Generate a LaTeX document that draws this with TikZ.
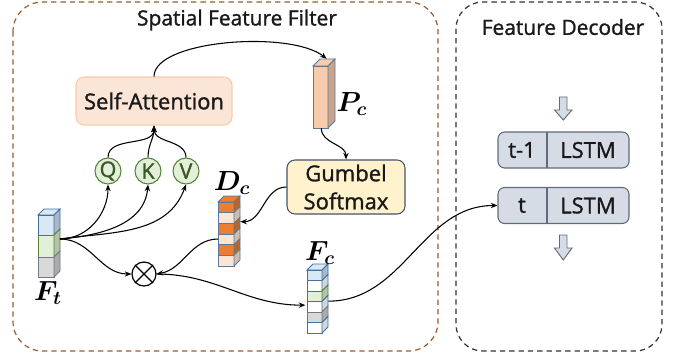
\documentclass[tikz,border=0pt]{standalone}
\usepackage{fontspec}
\setmainfont{Open Sans}[FakeBold=1.3]
\usepackage{bm}
\usetikzlibrary{arrows.meta,fit}
\definecolor{brownline}{HTML}{A0592B}
\definecolor{saFill}{HTML}{FBE5D6}
\definecolor{saDraw}{HTML}{F8CBAD}
\definecolor{qFill}{HTML}{E2F0D9}
\definecolor{qDraw}{HTML}{548235}
\definecolor{qText}{HTML}{385723}
\definecolor{gsFill}{HTML}{FFF2CC}
\definecolor{gsDraw}{HTML}{44546A}
\definecolor{lsFill}{HTML}{D6DCE5}
\definecolor{lsDraw}{HTML}{5F6B7A}
\definecolor{cBlue}{HTML}{DAE8F5}
\definecolor{cBlueS}{HTML}{A9B8C8}
\definecolor{cBlueD}{HTML}{41719C}
\definecolor{cGreen}{HTML}{E2F0D9}
\definecolor{cGreenS}{HTML}{B4C2AC}
\definecolor{cGreenD}{HTML}{548235}
\definecolor{cGray}{HTML}{D9D9D9}
\definecolor{cGrayS}{HTML}{ABABAB}
\definecolor{cGrayD}{HTML}{6F7A88}
\definecolor{cOr}{HTML}{ED7D31}
\definecolor{cOrS}{HTML}{B9662C}
\definecolor{cLt}{HTML}{FBE5D6}
\definecolor{cLtS}{HTML}{CDBCB2}
\definecolor{cWhS}{HTML}{CFD6DE}
\definecolor{pcFill}{HTML}{F8CBAD}
\definecolor{pcSide}{HTML}{C9A38C}
\definecolor{cellD}{HTML}{5B7A9A}
\newcommand{\cellbox}[8]{%
  \filldraw[fill=#6,draw=#8,line width=0.6pt] (#1,-#2) rectangle (#1+#3,-#2-#4);
  \filldraw[fill=#7,draw=#8,line width=0.6pt] (#1+#3,-#2) -- ++(#5,#5) -- ++(0,-#4) -- ++(-#5,-#5) -- cycle;}
\newcommand{\topface}[6]{%
  \filldraw[fill=#5,draw=#6,line width=0.6pt] (#1,-#2) -- ++(#4,#4) -- ++(#3,0) -- ++(-#4,-#4) -- cycle;}
\tikzset{
  arr/.style={line width=0.8pt,-{Stealth[length=5pt,width=4pt]}},
  txt/.style={font=\fontsize{16.5}{21}\selectfont,text=black!90},
  ttl/.style={font=\fontsize{15.7}{19}\selectfont,text=black!90},
  lab/.style={font=\fontsize{21}{24}\selectfont},
  qkv/.style={circle,draw=qDraw,fill=qFill,line width=0.8pt,minimum size=19.5pt,inner sep=0pt,
    font=\fontsize{16}{18}\selectfont,text=qText},
  lstmbox/.style={draw=lsDraw,fill=lsFill,line width=0.8pt,rounded corners=5pt,minimum width=98.25pt,minimum height=27pt,inner sep=0pt},
  hollow/.style={draw=lsDraw,fill=lsFill,line width=0.7pt},
  ghost/.style={inner sep=0pt,draw=none}
}
\begin{document}
\begin{tikzpicture}[x=0.75pt,y=0.75pt]
\useasboundingbox (0,0) rectangle (681,-356);
% outer boxes
\draw[brownline,line width=0.9pt,dash pattern=on 4pt off 3pt,rounded corners=22pt] (13,-2) rectangle (438,-351);
\draw[black!80,line width=0.9pt,dash pattern=on 4pt off 3pt,rounded corners=20pt] (456,-2) rectangle (662,-351);
\node[ttl] (title1) at (237,-20) {Spatial Feature Filter};
\node[ttl] (title2) at (563,-27) {Feature Decoder};
% self-attention
\node[draw=saDraw,fill=saFill,line width=0.8pt,rounded corners=6pt,minimum width=117pt,minimum height=36pt,txt] (sa) at (154,-101) {Self-Attention};
\node[qkv] (q) at (108,-171) {Q};
\node[qkv] (k) at (148,-171) {K};
\node[qkv] (v) at (186,-171) {V};
% gumbel
\node[draw=gsDraw,fill=gsFill,line width=0.8pt,rounded corners=6pt,minimum width=88.5pt,minimum height=40.5pt,align=center,txt] (gs) at (346,-187) {Gumbel\\Softmax};
% otimes
\node[circle,draw=black,line width=0.9pt,minimum size=18pt,inner sep=0pt] (ot) at (144,-274) {};
\draw[line width=0.9pt] (ot.north west) -- (ot.south east) (ot.north east) -- (ot.south west);
% F_t stack
\topface{38}{215}{16}{6}{cBlue}{cBlueD}
\cellbox{38}{215}{16}{20}{6}{cBlue}{cBlueS}{cBlueD}
\cellbox{38}{235}{16}{22}{6}{cGreen}{cGreenS}{cGreenD}
\cellbox{38}{257}{16}{20}{6}{cGray}{cGrayS}{cGrayD}
\node[ghost,fit={(38,-209) (60,-277)}] (ft) {};
\node[lab] (ftl) at (48,-293) {$\bm{F_t}$};
% D_c stack
\topface{218}{202}{16}{6}{cOr}{cellD}
\cellbox{218}{202}{16}{10.67}{6}{cOr}{cOrS}{cellD}
\cellbox{218}{212.67}{16}{10.67}{6}{cLt}{cLtS}{cellD}
\cellbox{218}{223.33}{16}{10.67}{6}{cOr}{cOrS}{cellD}
\cellbox{218}{234}{16}{10.67}{6}{cLt}{cLtS}{cellD}
\cellbox{218}{244.67}{16}{10.67}{6}{cOr}{cOrS}{cellD}
\cellbox{218}{255.33}{16}{10.67}{6}{cLt}{cLtS}{cellD}
\node[ghost,fit={(218,-196) (240,-266)}] (dc) {};
\node[lab] (dcl) at (232,-183) {$\bm{D_c}$};
% P_c
\topface{313}{66}{15}{7}{pcFill}{cellD}
\cellbox{313}{66}{15}{62}{7}{pcFill}{pcSide}{cellD}
\node[ghost,fit={(313,-59) (335,-128)}] (pc) {};
\node[lab] (pcl) at (352,-104) {$\bm{P_c}$};
% F_c stack
\topface{307}{270}{15}{6}{cBlue}{cBlueD}
\cellbox{307}{270}{15}{10.5}{6}{cBlue}{cBlueS}{cBlueD}
\cellbox{307}{280.5}{15}{10.5}{6}{white}{cWhS}{cBlueD}
\cellbox{307}{291}{15}{10.5}{6}{cGreen}{cGreenS}{cGreenD}
\cellbox{307}{301.5}{15}{10.5}{6}{white}{cWhS}{cBlueD}
\cellbox{307}{312}{15}{10.5}{6}{cGray}{cGrayS}{cGrayD}
\cellbox{307}{322.5}{15}{10.5}{6}{white}{cWhS}{cBlueD}
\node[ghost,fit={(307,-264) (328,-333)}] (fc) {};
\node[lab] (fcl) at (320,-253) {$\bm{F_c}$};
% LSTM boxes
\node[lstmbox] (l1) at (563.5,-150) {};
\draw[lsDraw,line width=0.8pt] (547,-132) -- (547,-168);
\node[txt] (l1a) at (522,-150) {t-1};
\node[txt] (l1b) at (588,-150) {LSTM};
\node[lstmbox] (l2) at (563.5,-205.5) {};
\draw[lsDraw,line width=0.8pt] (547,-188) -- (547,-223);
\node[txt] (l2a) at (522,-205.5) {t};
\node[txt] (l2b) at (588,-205.5) {LSTM};
% hollow arrows
\draw[hollow] (559.5,-97) -- (567,-97) -- (567,-110) -- (572,-110) -- (563.25,-120) -- (554.5,-110) -- (559.5,-110) -- cycle;
\draw[hollow] (559.5,-235) -- (567,-235) -- (567,-248) -- (572,-248) -- (563.25,-260) -- (554.5,-248) -- (559.5,-248) -- cycle;
% connectors
\coordinate (ftout) at (60,-239);
\draw[arr] (ftout) to[out=0,in=-90] (q.south);
\draw[arr] (ftout) to[out=5,in=-95] (k.south);
\draw[arr] (ftout) to[out=8,in=-110] (v.south);
\draw[arr] (q.north) to[out=90,in=-90] (sa.south);
\draw[arr] (k.north) to[out=90,in=-90] (sa.south);
\draw[arr] (v.north) to[out=90,in=-90] (sa.south);
\draw[arr] (sa.north) .. controls (154,-40) and (290,-30) .. ([xshift=2pt]pc.north);
\draw[arr] ([xshift=-2pt]pc.south) to[out=-90,in=90] (gs.north);
\draw[arr] (gs.west) to[out=180,in=0] ([yshift=7pt]dc.east);
\draw[arr] ([yshift=-6pt,xshift=-16.5pt]dc.east) to[out=180,in=10] (ot.east);
\draw[arr] (ftout) to[out=0,in=180] (ot.west);
\draw[arr] (ot.east) to[out=0,in=180] ([yshift=-5pt,xshift=-1pt]fc.west);
\draw[arr] ([yshift=-2pt]fc.east) to[out=0,in=180] (l2.west);
\end{tikzpicture}
\end{document}
